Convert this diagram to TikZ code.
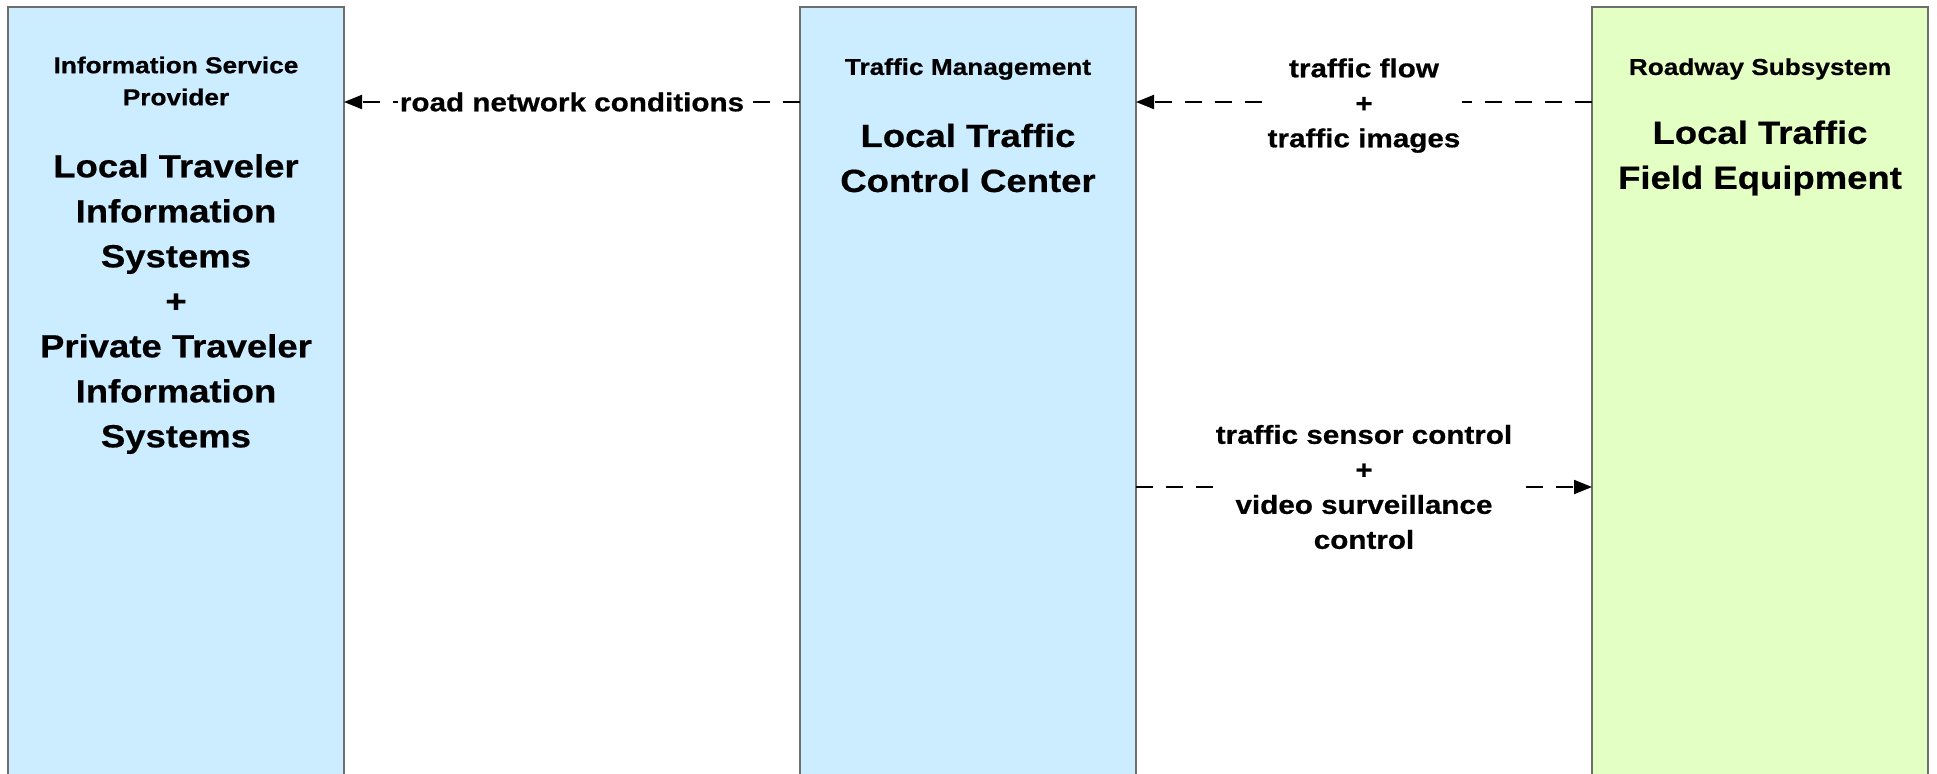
\documentclass[tikz,border=0pt]{standalone}
\usepackage{fontspec}
\setmainfont{Liberation Sans}[FakeStretch=1.14,BoldFeatures={FakeBold=0.6}]
\usetikzlibrary{arrows.meta}
\definecolor{boxblue}{HTML}{CCECFF}
\definecolor{boxgreen}{HTML}{E4FFC4}
\definecolor{boxline}{HTML}{6E6E6E}
\begin{document}
\begin{tikzpicture}[x=0.5pt,y=-0.5pt,
  sysbox/.style={draw=boxline,line width=0.75pt,anchor=north west,minimum width=168pt,minimum height=400pt,inner sep=0pt,outer sep=0pt},
  titletext/.style={font=\bfseries\fontsize{11.5}{16}\selectfont,align=center,inner sep=0pt},
  bigtext/.style={font=\bfseries\fontsize{16}{22.5}\selectfont,align=center,inner sep=0pt},
  flow/.style={line width=1pt,dash pattern=on 8.5pt off 6.5pt,-{Triangle[length=9pt,width=7pt]}},
  flowlabel/.style={font=\bfseries\fontsize{13}{17.5}\selectfont,align=center,fill=white,inner sep=1pt}]
\useasboundingbox (0,0) rectangle (1937,773);
\clip (0,0) rectangle (1937,773);
% boxes
\node[sysbox,fill=boxblue] (isp) at (8,7) {};
\node[sysbox,fill=boxblue] (tm) at (800,7) {};
\node[sysbox,fill=boxgreen] (rs) at (1592,7) {};
% texts
\node[titletext] (isptitle) at (176,81) {Information Service\\Provider};
\node[bigtext] (ispname) at (176,304) {Local Traveler\\Information\\Systems\\+\\Private Traveler\\Information\\Systems};
\node[titletext] (tmtitle) at (968,69) {Traffic Management};
\node[bigtext] (tmname) at (968,158) {Local Traffic\\Control Center};
\node[titletext] (rstitle) at (1760,69) {Roadway Subsystem};
\node[bigtext] (rsname) at (1760,158) {Local Traffic\\Field Equipment};
% flows
\coordinate (r1) at (0,102);
\coordinate (r2) at (0,487);
\draw[flow] (tm.west |- r1) -- node[flowlabel] (f1) {road network conditions} (isp.east |- r1);
\draw[flow] (rs.west |- r1) -- node[flowlabel,yshift=-1.8pt] (f2) {traffic flow\\+\\traffic images} (tm.east |- r1);
\draw[flow] (tm.east |- r2) -- node[flowlabel] (f3) {traffic sensor control\\+\\video surveillance\\control} (rs.west |- r2);
\end{tikzpicture}
\end{document}
